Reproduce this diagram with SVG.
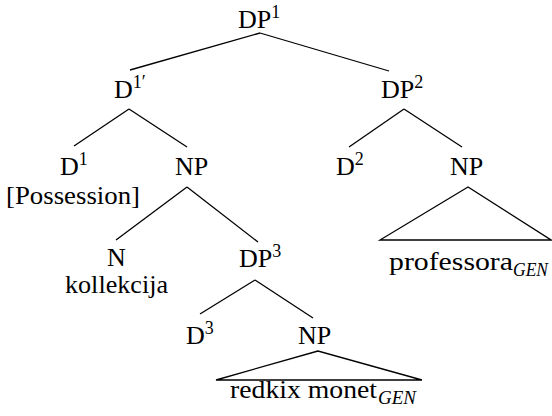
<svg xmlns="http://www.w3.org/2000/svg" width="552" height="416" viewBox="0 0 552 416" font-family="'Liberation Serif', 'DejaVu Serif', serif">
<style>
text{font-family:'Liberation Serif','DejaVu Serif',serif;font-size:26px;fill:#000}
.sup{font-size:18px}
.sub{font-size:18px;font-style:italic}
line,polygon{stroke:#000;stroke-width:1.3;fill:none}
</style>
<rect width="552" height="416" fill="#fff"/>
<g id="connectors">
<line x1="260" y1="33" x2="130" y2="70"/>
<line x1="260" y1="33" x2="389" y2="71"/>
<line x1="129" y1="109" x2="74" y2="146"/>
<line x1="129" y1="109" x2="187" y2="147"/>
<line x1="404" y1="109" x2="349" y2="147"/>
<line x1="404" y1="109" x2="462" y2="147"/>
<line x1="187" y1="187" x2="116" y2="240"/>
<line x1="187" y1="187" x2="258" y2="242"/>
<line x1="255" y1="280" x2="200" y2="314"/>
<line x1="255" y1="280" x2="313" y2="318"/>
<polygon points="468,187 380,240 551,240"/>
<polygon points="318,351 216,380 422,380"/>
</g>
<g id="dp1"><text x="238" y="28">DP<tspan class="sup" dy="-10">1</tspan></text></g>
<g id="d1bar"><text x="114" y="98">D<tspan class="sup" dy="-10">1′</tspan></text></g>
<g id="dp2"><text x="381" y="98">DP<tspan class="sup" dy="-10">2</tspan></text></g>
<g id="d1"><text x="60" y="175">D<tspan class="sup" dy="-10">1</tspan></text>
<text x="6" y="204" textLength="134" lengthAdjust="spacingAndGlyphs">[Possession]</text></g>
<g id="np1"><text x="175" y="175">NP</text></g>
<g id="d2"><text x="336" y="175">D<tspan class="sup" dy="-10">2</tspan></text></g>
<g id="np2"><text x="450" y="175">NP</text>
<text x="389" y="270" textLength="124" lengthAdjust="spacingAndGlyphs">professora</text>
<text class="sub" x="513" y="276" textLength="35" lengthAdjust="spacingAndGlyphs">GEN</text></g>
<g id="n"><text x="107" y="266">N</text>
<text x="65" y="293" textLength="103" lengthAdjust="spacingAndGlyphs">kollekcija</text></g>
<g id="dp3"><text x="239" y="267">DP<tspan class="sup" dy="-10">3</tspan></text></g>
<g id="d3"><text x="186" y="344">D<tspan class="sup" dy="-10">3</tspan></text></g>
<g id="np3"><text x="298" y="344">NP</text>
<text x="230" y="398" textLength="147" lengthAdjust="spacingAndGlyphs">redkix monet</text>
<text class="sub" x="378" y="404" textLength="38" lengthAdjust="spacingAndGlyphs">GEN</text></g>
</svg>
